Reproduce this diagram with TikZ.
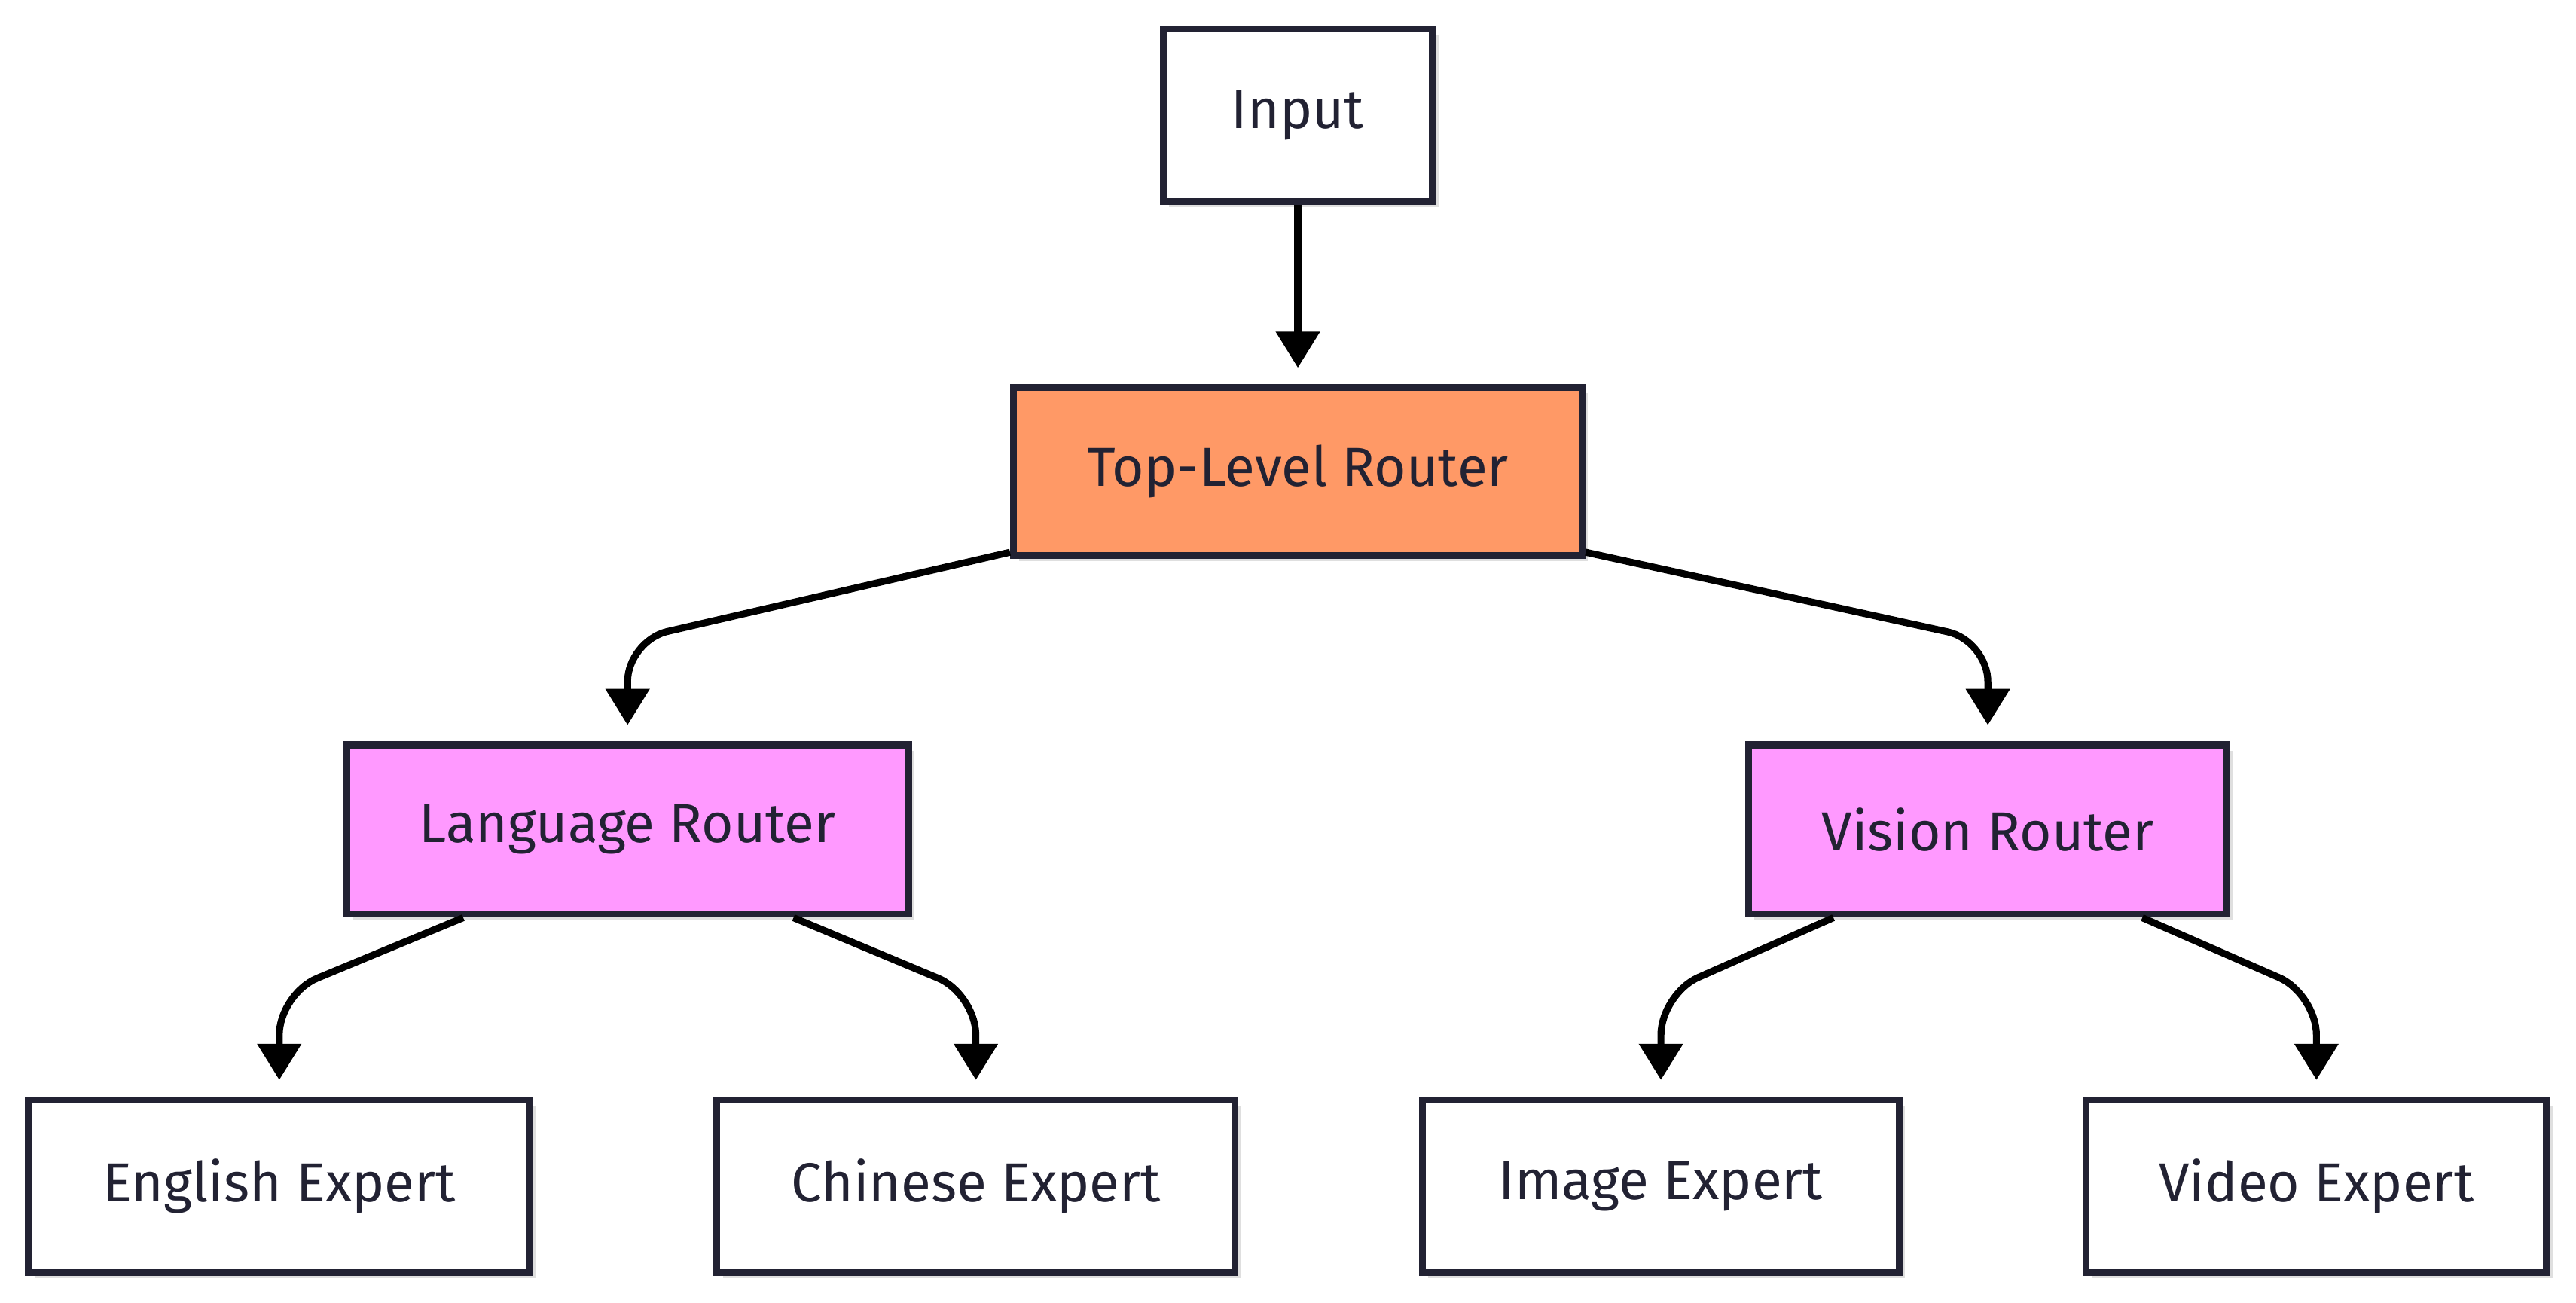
\documentclass[tikz,border=0pt]{standalone}
\usepackage{fontspec}
\setmainfont{Fira Sans}
\usetikzlibrary{positioning, arrows.meta, calc, shadows}
\definecolor{RouterOrange}{HTML}{FF9966}
\definecolor{RouterPink}{HTML}{FF99FF}
\definecolor{InkDark}{HTML}{222233}
\begin{document}
\begin{tikzpicture}[x=0.01cm, y=-0.01cm,
            box/.style={rectangle, draw=InkDark, line width=1.2pt, fill=white, inner sep=0pt, align=center, text=InkDark, font=\fontsize{9.5}{11}\selectfont, drop shadow={shadow xshift=1pt, shadow yshift=-1pt, opacity=0.25}},
            arrow/.style={-{Triangle[length=0.22cm, width=0.26cm]}, line width=1.2pt, black, rounded corners=0.25cm}
        ]
            \useasboundingbox (0,0) rectangle (1568,793);
            % Boxes
            \node[box, minimum width=1.64cm, minimum height=1.05cm] (input) at (790,70) {Input};
            \node[box, fill=RouterOrange, minimum width=3.46cm, minimum height=1.02cm] (top) at (790,287) {Top-Level Router};
            \node[box, fill=RouterPink, minimum width=3.42cm, minimum height=1.03cm] (lang) at (382,505) {Language Router};
            \node[box, fill=RouterPink, minimum width=2.91cm, minimum height=1.03cm] (vision) at (1210,505) {Vision Router};
            \node[box, minimum width=3.05cm, minimum height=1.05cm] (english) at (170,722) {English Expert};
            \node[box, minimum width=3.15cm, minimum height=1.05cm] (chinese) at (594,722) {Chinese Expert};
            \node[box, minimum width=2.90cm, minimum height=1.05cm] (image) at (1011,722) {Image Expert};
            \node[box, minimum width=2.80cm, minimum height=1.05cm] (video) at (1410,722) {Video Expert};

            % Arrows
            \draw[arrow] (input) -- ($(top.north)+(0,-10)$);
            \draw[arrow] ($(top.south west)+(0,-4)$) -- (382,390) -- ($(lang.north)+(0,-10)$);
            \draw[arrow] ($(top.south east)+(0,-4)$) -- (1210,390) -- ($(vision.north)+(0,-10)$);
            \draw[arrow] ($(lang.south)+(-100,0)$) -- (170,605) -- ($(english.north)+(0,-10)$);
            \draw[arrow] ($(lang.south)+(101,0)$) -- (594,605) -- ($(chinese.north)+(0,-10)$);
            \draw[arrow] ($(vision.south)+(-94,0)$) -- (1011,605) -- ($(image.north)+(0,-10)$);
            \draw[arrow] ($(vision.south)+(94,0)$) -- (1410,605) -- ($(video.north)+(0,-10)$);
        \end{tikzpicture}
\end{document}
